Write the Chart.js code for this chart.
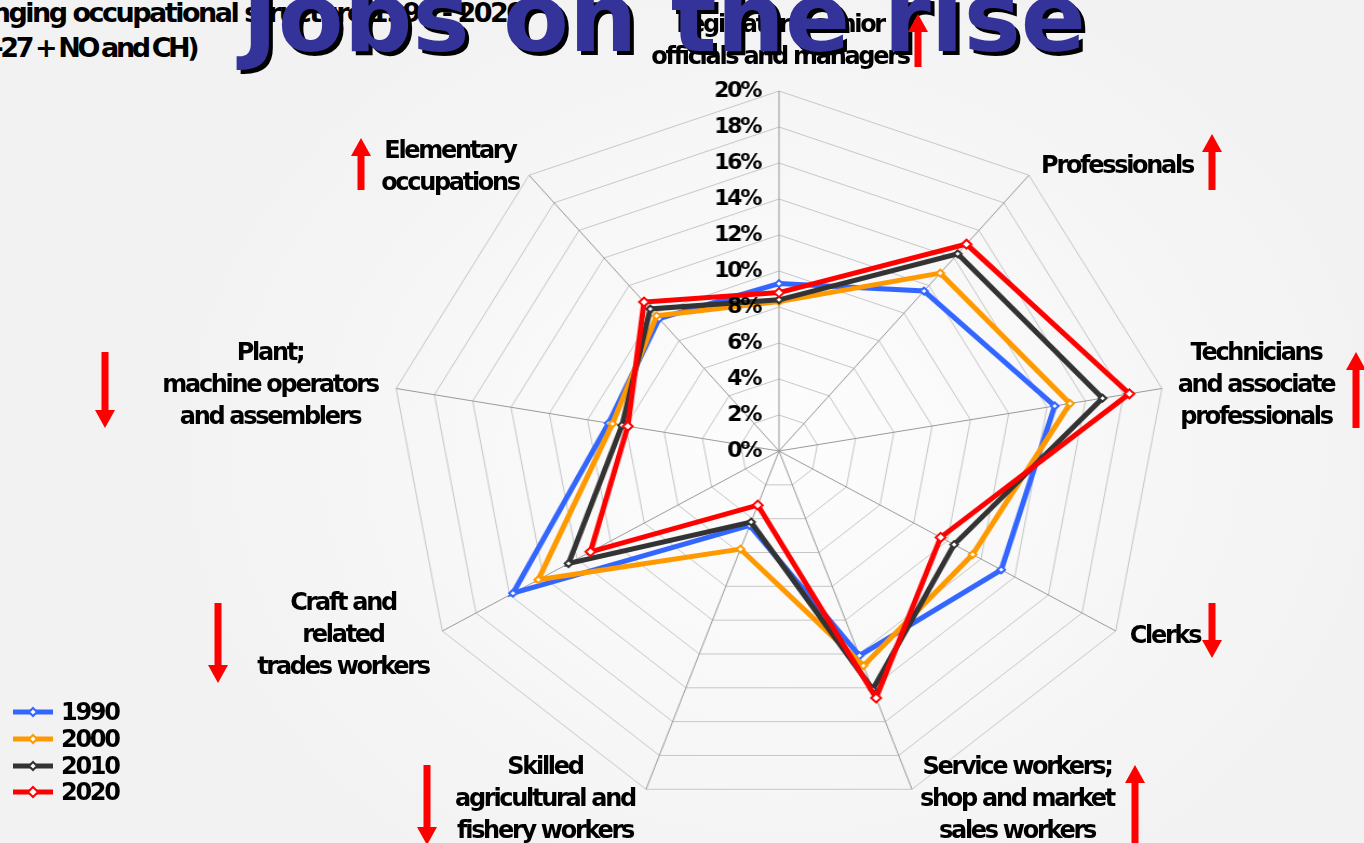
<!DOCTYPE html>
<html>
<head>
<meta charset="utf-8">
<script src="https://cdn.jsdelivr.net/npm/chart.js@4.4.1/dist/chart.umd.min.js"></script>
<style>
html, body { margin: 0; padding: 0; }
body {
	width: 1364px; height: 843px; overflow: hidden; position: relative;
	background: radial-gradient(ellipse 600px 500px at 779px 451px, #fdfdfd 0%, #f8f8f8 50%, #f2f2f2 100%);
	font-family: "DejaVu Sans", sans-serif; font-weight: bold; color: #000;
}
#chartBox { position: absolute; left: 399px; top: 71px; width: 760px; height: 760px; transform: scaleX(1.08); transform-origin: 380px 380px; }
.lbl { position: absolute; font-size: 24px; line-height: 32px; letter-spacing: -2.3px; text-align: center; white-space: nowrap; transform: translateX(-50%); }
.sub { position: absolute; font-size: 27px; line-height: 38px; letter-spacing: -2.5px; white-space: nowrap; }
#sub1 { left: -58px; top: -6px; }
#sub2 { left: -50px; top: 29px; letter-spacing: -3.4px; word-spacing: -2px; }
#title { position: absolute; left: 242px; top: -30px; font-size: 96px; line-height: 96px; color: #333399; text-shadow: 4px 4px 0 #000; white-space: nowrap; }
#arrows { position: absolute; left: 0; top: 0; }
#legend { position: absolute; left: 13px; top: 699px; }
.leg { height: 26.7px; display: flex; align-items: center; font-size: 24px; letter-spacing: -2.3px; }
.leg svg { margin-right: 8px; }
</style>
</head>
<body>
<div id="chartBox"><canvas id="radar" width="760" height="760"></canvas></div>
<div id="labels"></div>
<div class="sub" id="sub1">Changing occupational structure 1990 - 2020</div>
<div class="sub" id="sub2">(EU-27 + NO and CH)</div>
<div id="title">Jobs on the rise</div>
<svg id="arrows" width="1364" height="843"></svg>
<div id="legend"></div>
<script>
// occupational groups, clockwise from the top
const categories = [
	['Legislators, senior', 'officials and managers'],
	['Professionals'],
	['Technicians', 'and associate', 'professionals'],
	['Clerks'],
	['Service workers;', 'shop and market', 'sales workers'],
	['Skilled', 'agricultural and', 'fishery workers'],
	['Craft and', 'related', 'trades workers'],
	['Plant;', 'machine operators', 'and assemblers'],
	['Elementary', 'occupations']
];
const years = ['1990', '2000', '2010', '2020'];
const share1990 = [9.3, 11.6, 14.4, 13.2, 12.1, 4.4, 15.8, 8.9, 9.6];
const share2000 = [8.3, 12.9, 15.2, 11.5, 12.7, 5.8, 14.3, 8.7, 9.8];
const share2010 = [8.4, 14.3, 16.9, 10.4, 14.1, 4.2, 12.5, 8.2, 10.3];
const share2020 = [8.8, 15.0, 18.3, 9.6, 14.6, 3.2, 11.2, 7.9, 10.8];
const trend = ['up', 'up', 'up', 'down', 'up', 'down', 'down', 'down', 'up'];

const colors = ['#3366ff', '#ff9900', '#333333', '#ff0000'];
const SX = 1.08;

// where the labels and arrows sit on the page (centre x, first line centre y)
const labelPos = [[780, 24], [1117, 165], [1256, 352], [1165, 635], [1017, 766], [545, 766], [343, 602], [270, 352], [450, 150]];
const arrowPos = [[918, 14, 67], [1212, 134, 190], [1356, 352, 428], [1212, 603, 658], [1135, 765, 845], [427, 765, 845], [218, 603, 683], [105, 352, 428], [361, 138, 190]];

const tickLabels = {
	id: 'tickLabels',
	afterDraw(chart) {
		const s = chart.scales.r;
		const ctx = chart.ctx;
		ctx.save();
		ctx.font = 'bold 22px "DejaVu Sans"';
		ctx.letterSpacing = '-2.3px';
		ctx.fillStyle = '#000';
		ctx.textAlign = 'right';
		ctx.textBaseline = 'middle';
		s.ticks.forEach(t => {
			const y = s.yCenter - s.getDistanceFromCenterForValue(t.value);
			ctx.save();
			ctx.translate(s.xCenter - 19 / SX, y);
			ctx.scale(1 / SX, 1);
			ctx.fillText(t.value + '%', 0, 0);
			ctx.restore();
		});
		ctx.restore();
	}
};

const series = [share1990, share2000, share2010, share2020];

new Chart(document.getElementById('radar'), {
	type: 'radar',
	data: {
		labels: categories,
		datasets: series.map((d, i) => ({
			label: years[i],
			data: d,
			borderColor: colors[i],
			backgroundColor: 'transparent',
			fill: false,
			borderWidth: 5,
			pointStyle: 'rectRot',
			pointRadius: i === 3 ? 4.5 : 3.5,
			pointBorderWidth: 2,
			pointBackgroundColor: '#ffffff',
			pointBorderColor: colors[i],
			order: 3 - i
		}))
	},
	options: {
		responsive: false,
		animation: false,
		devicePixelRatio: 1,
		layout: { padding: 20 },
		plugins: { legend: { display: false }, tooltip: { enabled: false } },
		scales: {
			r: {
				min: 0,
				max: 20,
				ticks: { stepSize: 2, display: false },
				pointLabels: { display: false },
				grid: { color: '#c6c6c6', lineWidth: 1 },
				angleLines: { color: '#999999', lineWidth: 1 }
			}
		},
		elements: { line: { tension: 0 } }
	},
	plugins: [tickLabels]
});

// category labels
const labelsDiv = document.getElementById('labels');
categories.forEach((lines, i) => {
	const el = document.createElement('div');
	el.className = 'lbl';
	el.style.left = labelPos[i][0] + 'px';
	el.style.top = (labelPos[i][1] - 16) + 'px';
	el.innerHTML = lines.join('<br>');
	labelsDiv.appendChild(el);
});

// red trend arrows
const svg = document.getElementById('arrows');
let shapes = '';
trend.forEach((dir, i) => {
	const [x, a, b] = arrowPos[i];
	const tip = dir === 'up' ? a : b;
	const tail = dir === 'up' ? b : a;
	const s = dir === 'up' ? 1 : -1;
	const base = tip + s * 18;
	shapes += `<polygon fill="#ff0000" points="${x},${tip} ${x + 10},${base} ${x + 3.5},${base} ${x + 3.5},${tail} ${x - 3.5},${tail} ${x - 3.5},${base} ${x - 10},${base}"/>`;
});
svg.innerHTML = shapes;

// legend
const legend = document.getElementById('legend');
years.forEach((y, i) => {
	const row = document.createElement('div');
	row.className = 'leg';
	const r = i === 3 ? 5 : 4;
	row.innerHTML = `<svg width="40" height="14"><line x1="0" y1="7" x2="40" y2="7" stroke="${colors[i]}" stroke-width="5"/>` +
		`<polygon points="20,${7 - r} ${20 + r},7 20,${7 + r} ${20 - r},7" fill="#fff" stroke="${colors[i]}" stroke-width="2"/></svg>${y}`;
	legend.appendChild(row);
});
</script>
</body>
</html>
